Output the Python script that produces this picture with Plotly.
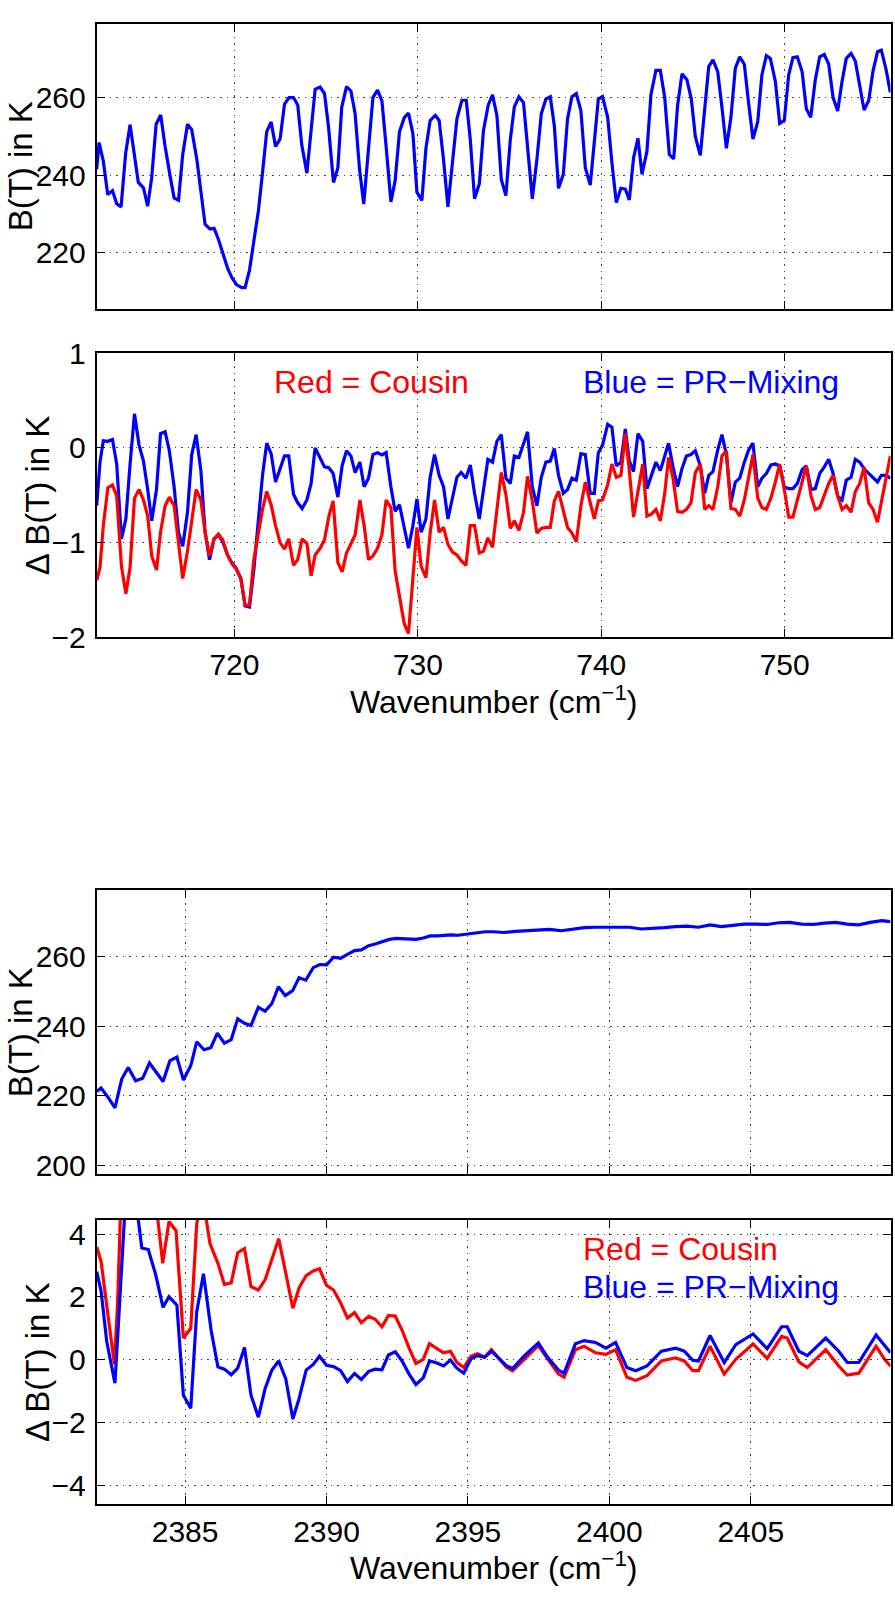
import plotly.graph_objects as go

# ---------------- Panel 1: B(T) near 720 cm-1 ----------------
top_wn = [712.49, 712.62, 712.85, 713.09, 713.35, 713.58, 713.82, 714.07, 714.31, 714.55,
          714.76, 715.04, 715.27, 715.49, 715.73, 715.98, 716.22, 716.49, 716.71, 716.95,
          717.18, 717.44, 717.67, 717.95, 718.18, 718.40, 718.67, 718.89, 719.13, 719.40,
          719.64, 719.89, 720.13, 720.40, 720.58, 720.82, 721.07, 721.31, 721.53, 721.76,
          722.00, 722.24, 722.49, 722.73, 722.98, 723.22, 723.45, 723.67, 723.95, 724.18,
          724.40, 724.67, 724.91, 725.13, 725.40, 725.64, 725.85, 726.11, 726.35, 726.58,
          726.82, 727.05, 727.31, 727.55, 727.80, 728.04, 728.27, 728.53, 728.76, 729.00,
          729.26, 729.49, 729.73, 729.95, 730.22, 730.44, 730.67, 730.95, 731.16, 731.40,
          731.64, 731.89, 732.13, 732.40, 732.64, 732.86, 733.09, 733.35, 733.58, 733.84,
          734.07, 734.31, 734.55, 734.80, 735.04, 735.26, 735.51, 735.76, 735.98, 736.24,
          736.49, 736.73, 736.98, 737.22, 737.44, 737.67, 737.93, 738.16, 738.40, 738.64,
          738.89, 739.13, 739.40, 739.62, 739.84, 740.07, 740.35, 740.58, 740.82, 741.07,
          741.31, 741.53, 741.76, 742.00, 742.22, 742.49, 742.71, 742.98, 743.22, 743.46,
          743.71, 743.95, 744.16, 744.40, 744.67, 744.91, 745.13, 745.40, 745.64, 745.86,
          746.09, 746.35, 746.58, 746.82, 747.07, 747.31, 747.55, 747.80, 748.04, 748.27,
          748.53, 748.76, 749.00, 749.22, 749.49, 749.73, 749.98, 750.22, 750.45, 750.69,
          750.95, 751.18, 751.42, 751.67, 751.91, 752.16, 752.40, 752.64, 752.89, 753.13,
          753.36, 753.62, 753.85, 754.09, 754.33, 754.58, 754.82, 755.06, 755.27, 755.53,
          755.76]
top_bt = [241.5, 248.4, 243.6, 235.0, 236.0, 232.6, 231.8, 245.7, 253.0, 245.3,
          238.1, 236.7, 232.0, 239.4, 253.1, 255.5, 247.4, 239.8, 234.1, 233.5,
          245.3, 253.1, 251.7, 244.0, 234.7, 227.3, 226.1, 226.3, 223.4, 219.2,
          215.8, 213.3, 211.7, 211.0, 211.0, 215.5, 223.8, 230.9, 240.6, 251.2,
          253.7, 247.4, 249.3, 258.3, 260.0, 260.0, 258.1, 247.8, 240.5, 250.7,
          262.1, 262.7, 261.0, 252.4, 238.1, 241.9, 257.5, 262.8, 261.7, 255.8,
          241.5, 232.5, 247.4, 260.0, 261.9, 259.2, 247.4, 233.1, 238.5, 251.2,
          254.8, 256.0, 250.7, 235.6, 233.5, 246.9, 254.1, 255.4, 254.1, 244.0,
          231.8, 244.0, 254.5, 259.3, 259.3, 249.1, 233.9, 237.7, 251.6, 258.1,
          260.7, 255.4, 238.9, 234.7, 249.1, 257.6, 260.2, 258.7, 247.4, 233.9,
          244.0, 255.8, 259.6, 260.2, 252.8, 236.6, 240.2, 254.5, 260.2, 261.0,
          256.6, 241.9, 237.4, 249.1, 259.6, 260.2, 254.9, 243.2, 232.9, 236.6,
          236.4, 233.6, 244.4, 249.5, 240.2, 246.1, 260.8, 267.0, 267.0, 260.0,
          245.3, 244.2, 257.9, 266.1, 264.6, 259.6, 249.9, 245.1, 256.6, 268.0,
          269.7, 266.7, 257.5, 246.9, 254.9, 267.6, 270.5, 268.6, 258.3, 249.3,
          253.7, 265.9, 270.8, 270.1, 264.2, 253.3, 254.1, 265.9, 270.3, 270.5,
          266.7, 257.1, 254.9, 264.6, 270.5, 271.1, 268.6, 260.0, 256.5, 264.2,
          270.1, 271.4, 269.4, 262.9, 256.8, 259.2, 266.9, 271.8, 272.2, 267.2,
          261.3]

# ---------------- Panel 2: Delta B(T) near 720 cm-1 ----------------
mid_wn = [712.49, 712.67, 712.85, 713.10, 713.35, 713.58, 713.84, 714.08, 714.31, 714.55,
          714.80, 715.04, 715.27, 715.49, 715.75, 715.97, 716.22, 716.45, 716.71, 716.95,
          717.18, 717.44, 717.67, 717.91, 718.17, 718.40, 718.64, 718.89, 719.13, 719.36,
          719.62, 719.85, 720.09, 720.35, 720.58, 720.82, 721.05, 721.31, 721.53, 721.76,
          722.00, 722.24, 722.49, 722.73, 722.96, 723.22, 723.45, 723.69, 723.95, 724.18,
          724.40, 724.67, 724.91, 725.15, 725.38, 725.64, 725.87, 726.11, 726.35, 726.58,
          726.84, 727.07, 727.31, 727.55, 727.80, 728.04, 728.27, 728.53, 728.76, 729.00,
          729.26, 729.49, 729.73, 729.95, 730.18, 730.44, 730.67, 730.91, 731.16, 731.40,
          731.64, 731.89, 732.13, 732.36, 732.62, 732.86, 733.09, 733.35, 733.58, 733.82,
          734.07, 734.31, 734.55, 734.80, 735.04, 735.26, 735.51, 735.76, 735.98, 736.24,
          736.49, 736.73, 736.98, 737.22, 737.44, 737.67, 737.93, 738.16, 738.40, 738.64,
          738.89, 739.13, 739.40, 739.62, 739.84, 740.07, 740.35, 740.58, 740.82, 741.07,
          741.31, 741.53, 741.76, 742.00, 742.26, 742.49, 742.73, 742.98, 743.22, 743.46,
          743.67, 743.91, 744.16, 744.40, 744.64, 744.89, 745.13, 745.40, 745.64, 745.86,
          746.09, 746.35, 746.58, 746.82, 747.07, 747.31, 747.55, 747.80, 748.04, 748.27,
          748.53, 748.76, 749.00, 749.25, 749.49, 749.73, 749.98, 750.22, 750.45, 750.69,
          750.95, 751.18, 751.44, 751.67, 751.91, 752.16, 752.40, 752.64, 752.89, 753.13,
          753.36, 753.62, 753.85, 754.09, 754.33, 754.58, 754.82, 755.06, 755.27, 755.53,
          755.76]
mid_blue = [-0.61, -0.15, 0.075, 0.07, 0.09, -0.17, -0.96, -0.75, -0.17, 0.36,
            0.03, -0.14, -0.44, -0.77, -0.44, 0.15, 0.17, -0.03, -0.41, -0.89,
            -1.04, -0.68, -0.07, 0.14, -0.24, -0.89, -1.18, -0.96, -0.92, -0.99,
            -1.13, -1.21, -1.27, -1.38, -1.67, -1.68, -1.30, -0.785, -0.29, 0.05,
            -0.06, -0.36, -0.22, -0.085, -0.085, -0.49, -0.58, -0.64, -0.55, -0.375,
            0.0, -0.10, -0.20, -0.21, -0.27, -0.52, -0.19, -0.03, -0.085, -0.26,
            -0.15, -0.41, -0.32, -0.07, -0.05, -0.075, -0.05, -0.41, -0.67, -0.60,
            -0.85, -1.06, -0.82, -0.54, -0.89, -0.75, -0.31, -0.07, -0.29, -0.41,
            -0.75, -0.53, -0.31, -0.26, -0.32, -0.18, -0.48, -0.75, -0.41, -0.12,
            -0.15, 0.07, 0.14, -0.32, -0.375, -0.085, -0.10, 0.05, 0.17, -0.41,
            -0.61, -0.31, -0.15, -0.14, -0.007, -0.29, -0.48, -0.44, -0.32, -0.34,
            -0.06, -0.07, -0.48, -0.48, -0.05, 0.03, 0.25, 0.22, -0.19, -0.15,
            0.20, -0.14, -0.25, 0.15, 0.07, -0.43, -0.29, -0.15, -0.24, -0.085,
            0.05, -0.20, -0.41, -0.22, -0.085, -0.07, -0.03, -0.19, -0.48, -0.29,
            -0.25, -0.02, 0.14, -0.07, -0.58, -0.36, -0.32, -0.15, -0.02, 0.05,
            -0.41, -0.32, -0.27, -0.18, -0.17, -0.19, -0.41, -0.43, -0.43, -0.375,
            -0.23, -0.19, -0.44, -0.43, -0.27, -0.20, -0.12, -0.27, -0.51, -0.55,
            -0.34, -0.31, -0.12, -0.15, -0.22, -0.27, -0.32, -0.36, -0.29, -0.29,
            -0.32]
mid_red = [-1.40, -1.26, -0.82, -0.42, -0.39, -0.51, -1.25, -1.54, -1.26, -0.53,
           -0.44, -0.55, -0.72, -1.14, -1.29, -0.89, -0.61, -0.52, -0.61, -1.02,
           -1.38, -1.09, -0.75, -0.44, -0.55, -0.89, -1.14, -0.96, -0.91, -0.97,
           -1.13, -1.22, -1.28, -1.38, -1.66, -1.66, -1.19, -0.92, -0.65, -0.46,
           -0.60, -0.82, -1.00, -1.07, -0.96, -1.24, -1.18, -0.96, -1.01, -1.35,
           -1.13, -1.06, -0.97, -0.72, -0.56, -1.21, -1.31, -1.11, -1.02, -0.92,
           -0.55, -0.82, -1.18, -1.14, -1.06, -0.92, -0.55, -0.63, -1.30, -1.59,
           -1.86, -1.96, -1.37, -0.84, -1.25, -1.37, -0.90, -0.55, -0.89, -0.84,
           -1.02, -1.10, -1.13, -1.19, -1.24, -0.82, -0.82, -1.11, -1.09, -0.95,
           -1.05, -0.65, -0.26, -0.49, -0.85, -0.77, -0.87, -0.68, -0.30, -0.56,
           -0.90, -0.85, -0.84, -0.84, -0.56, -0.46, -0.65, -0.84, -0.90, -0.99,
           -0.61, -0.36, -0.58, -0.75, -0.56, -0.55, -0.39, -0.17, -0.31, -0.29,
           0.15, -0.24, -0.73, -0.44, -0.17, -0.72, -0.70, -0.65, -0.77, -0.48,
           -0.10, -0.32, -0.67, -0.68, -0.65, -0.58, -0.26, -0.17, -0.65, -0.61,
           -0.65, -0.41, -0.085, -0.03, -0.64, -0.65, -0.72, -0.55, -0.32, -0.07,
           -0.53, -0.63, -0.65, -0.53, -0.36, -0.17, -0.44, -0.73, -0.73, -0.55,
           -0.34, -0.19, -0.51, -0.65, -0.63, -0.49, -0.375, -0.29, -0.51, -0.65,
           -0.61, -0.68, -0.46, -0.375, -0.20, -0.58, -0.65, -0.785, -0.58, -0.34,
           -0.085]

# ---------------- Panel 3: B(T) near 2390 cm-1 ----------------
low_wn = [2381.875, 2382.03, 2382.29, 2382.52, 2382.76, 2382.99, 2383.25, 2383.50, 2383.74, 2383.97,
          2384.22, 2384.46, 2384.71, 2384.94, 2385.20, 2385.41, 2385.67, 2385.91, 2386.14, 2386.39,
          2386.63, 2386.86, 2387.10, 2387.33, 2387.59, 2387.83, 2388.07, 2388.30, 2388.54, 2388.80,
          2389.03, 2389.27, 2389.53, 2389.76, 2390.00, 2390.25, 2390.50, 2390.74, 2390.99, 2391.23,
          2391.49, 2391.72, 2391.96, 2392.22, 2392.46, 2392.69, 2392.94, 2393.17, 2393.42, 2393.67,
          2393.90, 2394.16, 2394.41, 2394.65, 2394.91, 2395.14, 2395.38, 2395.61, 2395.91, 2396.27,
          2396.68, 2397.08, 2397.49, 2397.89, 2398.30, 2398.70, 2399.11, 2399.51, 2399.92, 2400.32,
          2400.72, 2401.13, 2401.53, 2401.94, 2402.34, 2402.75, 2403.15, 2403.56, 2403.96, 2404.37,
          2404.77, 2405.18, 2405.58, 2405.99, 2406.39, 2406.80, 2407.20, 2407.61, 2408.01, 2408.41,
          2408.82, 2409.22, 2409.63, 2409.94]
low_bt = [221.2, 222.2, 219.4, 216.5, 224.8, 228.1, 224.3, 225.0, 229.4, 226.9,
          224.1, 230.0, 231.1, 224.5, 228.6, 235.5, 233.2, 233.8, 238.0, 235.1,
          236.1, 242.1, 240.8, 240.2, 245.4, 244.3, 246.5, 251.3, 248.8, 250.2,
          253.9, 253.2, 256.8, 257.7, 257.6, 259.8, 259.5, 260.6, 261.7, 261.9,
          263.1, 263.6, 264.2, 264.9, 265.2, 265.1, 265.0, 264.9, 265.3, 265.9,
          265.9, 266.1, 266.2, 266.1, 266.4, 266.7, 266.9, 267.1, 267.1, 266.9,
          267.2, 267.4, 267.7, 267.8, 267.4, 267.9, 268.3, 268.4, 268.4, 268.5,
          268.4, 267.9, 268.0, 268.3, 268.6, 268.7, 268.4, 269.1, 268.6, 269.0,
          269.3, 269.3, 269.2, 269.7, 269.8, 269.3, 269.2, 269.6, 269.8, 269.3,
          269.1, 269.8, 270.3, 270.0]

# ---------------- Panel 4: Delta B(T) near 2390 cm-1 ----------------
# values above the plotted range (> 4.45 K) are estimates of the clipped excursions
bot_wn_red = [2381.875, 2382.03, 2382.17, 2382.35, 2382.50, 2382.62, 2382.76, 2383.97, 2384.21, 2384.43,
              2384.68, 2384.94, 2385.20, 2385.41, 2385.62, 2385.88, 2386.16, 2386.39, 2386.63, 2386.86,
              2387.10, 2387.33, 2387.59, 2387.83, 2388.07, 2388.31, 2388.56, 2388.81, 2389.03, 2389.28,
              2389.53, 2389.75, 2390.00, 2390.25, 2390.50, 2390.74, 2390.99, 2391.23, 2391.49, 2391.72,
              2391.96, 2392.19, 2392.43, 2392.67, 2392.92, 2393.16, 2393.42, 2393.64, 2393.88, 2394.14,
              2394.38, 2394.61, 2394.85, 2395.11, 2395.34, 2395.59, 2395.83, 2396.37, 2396.58, 2396.98,
              2397.49, 2397.79, 2398.20, 2398.40, 2398.80, 2399.11, 2399.51, 2399.88, 2400.22, 2400.62,
              2400.93, 2401.33, 2401.84, 2402.34, 2402.65, 2402.95, 2403.15, 2403.56, 2404.06, 2404.47,
              2405.08, 2405.58, 2406.09, 2406.29, 2406.70, 2407.00, 2407.65, 2408.11, 2408.41, 2408.82,
              2409.43, 2409.73, 2409.94]
bot_red = [3.59, 3.13, 2.14, 0.89, -0.15, 1.93, 6.0, 5.0, 3.07, 4.40,
           4.11, 0.69, 1.00, 4.32, 5.2, 3.70, 3.07, 2.40, 2.45, 3.41,
           3.54, 2.33, 2.22, 2.55, 3.20, 3.85, 2.76, 1.64, 2.29, 2.68,
           2.83, 2.90, 2.37, 2.22, 1.81, 1.33, 1.50, 1.18, 1.38, 1.29,
           1.05, 1.41, 1.39, 0.94, 0.37, -0.12, 0.01, 0.51, 0.37, 0.22,
           0.27, -0.09, -0.25, 0.11, 0.19, 0.08, 0.32, -0.25, -0.35, 0.00,
           0.45, 0.06, -0.46, -0.56, 0.32, 0.43, 0.22, 0.17, 0.32, -0.56,
           -0.66, -0.51, -0.04, 0.06, -0.04, -0.35, -0.35, 0.43, -0.46, 0.01,
           0.50, 0.04, 0.74, 0.69, -0.07, -0.25, 0.32, -0.20, -0.49, -0.43,
           0.43, 0.01, -0.20]
bot_wn_blue = [2381.875, 2382.03, 2382.23, 2382.38, 2382.52, 2382.64, 2382.78, 2382.95, 2383.20, 2383.47,
               2383.70, 2383.96, 2384.22, 2384.43, 2384.71, 2384.94, 2385.20, 2385.41, 2385.65, 2385.92,
               2386.16, 2386.39, 2386.63, 2386.86, 2387.10, 2387.33, 2387.59, 2387.83, 2388.07, 2388.31,
               2388.56, 2388.81, 2389.03, 2389.28, 2389.53, 2389.75, 2390.00, 2390.25, 2390.50, 2390.74,
               2390.99, 2391.23, 2391.49, 2391.72, 2391.96, 2392.19, 2392.43, 2392.67, 2392.92, 2393.16,
               2393.42, 2393.64, 2393.88, 2394.14, 2394.38, 2394.61, 2394.85, 2395.11, 2395.34, 2395.59,
               2395.83, 2396.37, 2396.58, 2396.98, 2397.49, 2397.79, 2398.20, 2398.40, 2398.80, 2399.11,
               2399.51, 2399.88, 2400.22, 2400.62, 2400.93, 2401.33, 2401.84, 2402.34, 2402.65, 2402.95,
               2403.15, 2403.56, 2404.06, 2404.47, 2405.08, 2405.58, 2406.09, 2406.29, 2406.70, 2407.00,
               2407.65, 2408.11, 2408.41, 2408.82, 2409.43, 2409.73, 2409.94]
bot_blue = [2.81, 2.19, 0.58, -0.15, -0.75, 1.10, 3.90, 6.0, 5.5, 3.56,
            3.51, 2.71, 1.67, 2.01, 1.74, -1.13, -1.55, 1.52, 2.74, 0.94,
            -0.23, -0.30, -0.48, -0.27, 0.39, -1.13, -1.83, -0.92, -0.33, -0.04,
            -0.61, -1.89, -1.24, -0.33, -0.15, 0.11, -0.18, -0.22, -0.35, -0.70,
            -0.44, -0.63, -0.37, -0.30, -0.32, 0.15, 0.25, -0.04, -0.46, -0.79,
            -0.58, -0.04, -0.10, -0.20, -0.01, -0.27, -0.43, 0.03, 0.13, 0.08,
            0.27, -0.20, -0.28, 0.11, 0.53, 0.11, -0.33, -0.43, 0.51, 0.61,
            0.55, 0.37, 0.55, -0.25, -0.35, -0.20, 0.27, 0.37, 0.27, -0.02,
            -0.04, 0.77, -0.09, 0.48, 0.82, 0.35, 1.05, 1.05, 0.27, 0.13,
            0.69, 0.27, -0.09, -0.09, 0.79, 0.43, 0.22]

x_ticks_a = [720, 730, 740, 750]
x_ticks_b = [2385, 2390, 2395, 2400, 2405]
y_ticks_1 = [220, 240, 260]
y_ticks_2 = [-2, -1, 0, 1]
y_ticks_3 = [200, 220, 240, 260]
y_ticks_4 = [-4, -2, 0, 2, 4]

BLUE = "#0000ff"
RED = "#ff0000"
FONT = "Liberation Sans, Arial, Helvetica, sans-serif"
LW = 3.2

W, H = 895, 1604
xl, xr = 96.7 / W, 890.5 / W


def ydom(top_px, bot_px):
    return [1 - bot_px / H, 1 - top_px / H]


fig = go.Figure()
fig.add_trace(go.Scatter(x=top_wn, y=top_bt, mode="lines", line=dict(color=BLUE, width=LW),
                         xaxis="x", yaxis="y", showlegend=False))
fig.add_trace(go.Scatter(x=mid_wn, y=mid_blue, mode="lines", line=dict(color=BLUE, width=LW),
                         xaxis="x2", yaxis="y2", showlegend=False))
fig.add_trace(go.Scatter(x=mid_wn, y=mid_red, mode="lines", line=dict(color=RED, width=LW),
                         xaxis="x2", yaxis="y2", showlegend=False))
fig.add_trace(go.Scatter(x=low_wn, y=low_bt, mode="lines", line=dict(color=BLUE, width=LW),
                         xaxis="x3", yaxis="y3", showlegend=False))
fig.add_trace(go.Scatter(x=bot_wn_red, y=bot_red, mode="lines", line=dict(color=RED, width=LW),
                         xaxis="x4", yaxis="y4", showlegend=False))
fig.add_trace(go.Scatter(x=bot_wn_blue, y=bot_blue, mode="lines", line=dict(color=BLUE, width=LW),
                         xaxis="x4", yaxis="y4", showlegend=False))

common = dict(showline=True, linecolor="black", linewidth=2, mirror="ticks",
              ticks="inside", ticklen=8, tickwidth=1.3, tickcolor="black",
              showgrid=True, gridcolor="#444444", gridwidth=1, griddash="1.5px,5px",
              zeroline=False, tickfont=dict(family=FONT, size=30, color="black"))

fig.update_layout(
    width=W, height=H, margin=dict(l=0, r=0, t=0, b=0),
    paper_bgcolor="white", plot_bgcolor="white",
    xaxis=dict(common, domain=[xl, xr], range=[712.49, 755.77], tickvals=x_ticks_a,
               showticklabels=False, anchor="y"),
    yaxis=dict(common, domain=ydom(7, 298), range=[205.5, 279], tickvals=y_ticks_1,
               anchor="x", ticklabelstandoff=3),
    xaxis2=dict(common, domain=[xl, xr], range=[712.49, 755.77], tickvals=x_ticks_a,
                anchor="y2", ticklabelstandoff=0),
    yaxis2=dict(common, domain=ydom(343.3, 633.3), range=[-2, 1], tickvals=y_ticks_2,
                anchor="x2", ticklabelstandoff=3),
    xaxis3=dict(common, domain=[xl, xr], range=[2381.875, 2409.94], tickvals=x_ticks_b,
                showticklabels=False, anchor="y3"),
    yaxis3=dict(common, domain=ydom(891.7, 1181.7), range=[197.4, 279], tickvals=y_ticks_3,
                anchor="x3", ticklabelstandoff=3),
    xaxis4=dict(common, domain=[xl, xr], range=[2381.875, 2409.94], tickvals=x_ticks_b,
                anchor="y4", ticklabelstandoff=0),
    yaxis4=dict(common, domain=ydom(1228.3, 1518.3), range=[-4.6, 4.45], tickvals=y_ticks_4,
                anchor="x4", ticklabelstandoff=3),
)

ann = []
yfont = dict(family=FONT, size=33, color="black")
xfont = dict(family=FONT, size=32, color="black")
# y-axis titles
for txt, xc, yc in [("B(T) in K", 20, 152.5), ("\u0394 B(T) in K", 37, 488.3),
                    ("B(T) in K", 20, 1036.7), ("\u0394 B(T) in K", 37, 1373.3)]:
    ann.append(dict(text=txt, x=xc / W, y=1 - yc / H, xref="paper", yref="paper",
                    showarrow=False, textangle=-90, font=yfont, xanchor="center", yanchor="middle"))
# x-axis titles
for yc in [697, 1582]:
    ann.append(dict(text="Wavenumber (cm<sup>\u22121</sup>)", x=493.6 / W, y=1 - yc / H,
                    xref="paper", yref="paper", showarrow=False, font=xfont,
                    xanchor="center", yanchor="middle"))
# in-plot labels
lfont_r = dict(family=FONT, size=32, color=RED)
lfont_b = dict(family=FONT, size=32, color=BLUE)
ann.append(dict(text="Red = Cousin", x=272 / W, y=1 - 373 / H, xref="paper", yref="paper",
                showarrow=False, font=lfont_r, xanchor="left", yanchor="middle"))
ann.append(dict(text="Blue = PR\u2212Mixing", x=581 / W, y=1 - 373 / H, xref="paper", yref="paper",
                showarrow=False, font=lfont_b, xanchor="left", yanchor="middle"))
ann.append(dict(text="Red = Cousin", x=581 / W, y=1 - 1258 / H, xref="paper", yref="paper",
                showarrow=False, font=lfont_r, xanchor="left", yanchor="middle"))
ann.append(dict(text="Blue = PR\u2212Mixing", x=581 / W, y=1 - 1296.7 / H, xref="paper", yref="paper",
                showarrow=False, font=lfont_b, xanchor="left", yanchor="middle"))
fig.update_layout(annotations=ann)

fig.write_html("out.html")
